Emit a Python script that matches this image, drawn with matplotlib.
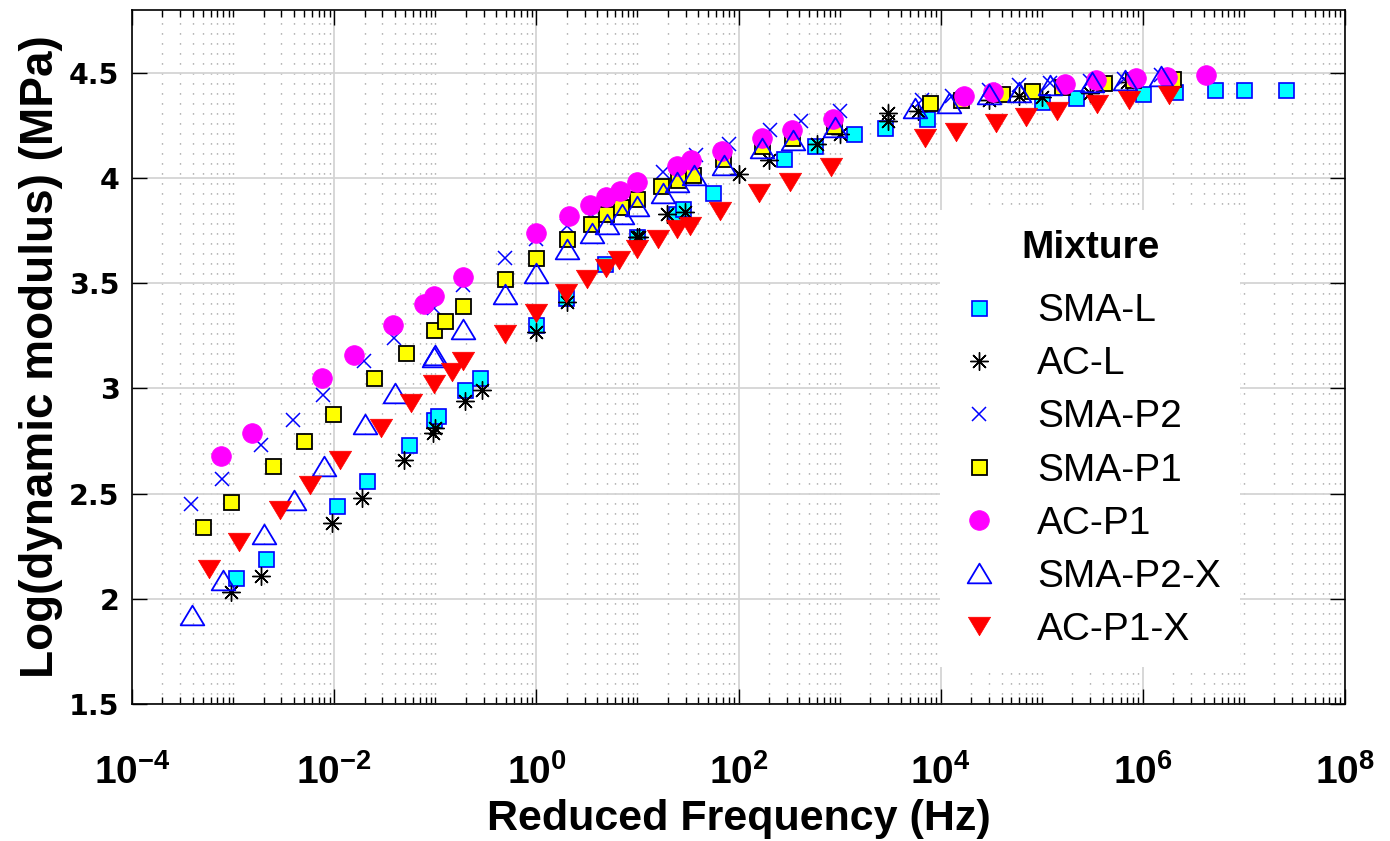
import numpy as np
import matplotlib
matplotlib.use("Agg")
import matplotlib.pyplot as plt
from matplotlib.path import Path
from matplotlib.ticker import FixedLocator, LogLocator, NullFormatter, FixedFormatter

plt.rcParams['font.family'] = ['Liberation Sans', 'DejaVu Sans']
plt.rcParams['mathtext.fontset'] = 'custom'
plt.rcParams['mathtext.rm'] = 'Liberation Sans:bold'
plt.rcParams['mathtext.bf'] = 'Liberation Sans:bold'
plt.rcParams['lines.scale_dashes'] = False

# ---------------- data ----------------
sma_l_f = [1.06e-3, 2.1e-3, 0.0107, 0.021, 0.055, 0.098, 0.107, 0.196, 0.276, 1.0, 1.97, 4.8, 9.9,
           24, 28, 56, 282, 575, 1390, 2800, 7300, 1.0e5, 2.2e5, 1e6, 2.1e6, 5.2e6, 1e7, 2.6e7]
sma_l_v = [2.10, 2.19, 2.44, 2.56, 2.73, 2.85, 2.87, 2.99, 3.05, 3.30, 3.43, 3.59, 3.72,
           3.83, 3.85, 3.93, 4.09, 4.15, 4.21, 4.235, 4.28, 4.36, 4.38, 4.40, 4.41, 4.42, 4.42, 4.42]

ac_l_f = [9.6e-4, 1.9e-3, 9.6e-3, 0.019, 0.049, 0.095, 0.1, 0.197, 0.29, 1.0, 2.0, 9.8, 10.3,
          19.5, 29.5, 100, 200, 600, 1000, 3000, 3000, 6000, 3e4, 6e4, 1e5, 3e5, 6.9e5]
ac_l_v = [2.03, 2.11, 2.36, 2.48, 2.66, 2.79, 2.81, 2.94, 2.99, 3.27, 3.41, 3.72, 3.72,
          3.83, 3.84, 4.02, 4.085, 4.16, 4.21, 4.27, 4.31, 4.32, 4.37, 4.39, 4.385, 4.405, 4.455]

sma_p2_f = [3.8e-4, 7.8e-4, 1.9e-3, 3.9e-3, 7.8e-3, 0.0195, 0.039, 0.097, 0.19, 0.49, 1.0, 2.0,
            3.5, 4.9, 6.9, 9.9, 17.8, 38, 80, 205, 410, 1000, 6500, 1.3e4, 3e4, 6e4, 1.2e5,
            3e5, 6.5e5, 1.5e6]
sma_p2_v = [2.45, 2.57, 2.73, 2.85, 2.97, 3.13, 3.24, 3.38, 3.49, 3.62, 3.71, 3.77,
            3.83, 3.86, 3.89, 3.93, 4.03, 4.11, 4.16, 4.23, 4.27, 4.32, 4.37, 4.39, 4.42, 4.44, 4.45,
            4.46, 4.47, 4.49]

sma_p1_f = [5.0e-4, 9.6e-4, 2.5e-3, 5.0e-3, 9.7e-3, 0.025, 0.051, 0.097, 0.125, 0.19, 0.49, 1.0,
            2.0, 3.45, 4.9, 6.9, 9.9, 17, 25, 35.5, 70, 170, 340, 870, 7900, 1.6e4, 4e4, 8e4,
            1.6e5, 4.1e5, 7.9e5, 2e6]
sma_p1_v = [2.34, 2.46, 2.63, 2.75, 2.88, 3.05, 3.17, 3.275, 3.32, 3.39, 3.52, 3.62,
            3.71, 3.78, 3.83, 3.86, 3.90, 3.96, 3.99, 4.015, 4.09, 4.15, 4.19, 4.245, 4.355, 4.37,
            4.40, 4.415, 4.43, 4.45, 4.465, 4.47]

ac_p1_f = [7.5e-4, 1.55e-3, 7.5e-3, 0.0156, 0.038, 0.077, 0.097, 0.19, 1.0, 2.1, 3.4, 4.9, 6.7,
           9.8, 24.4, 34, 68, 170, 340, 850, 1.7e4, 3.3e4, 1.7e5, 3.4e5, 8.5e5, 1.74e6, 4.2e6]
ac_p1_v = [2.68, 2.79, 3.05, 3.16, 3.30, 3.40, 3.44, 3.53, 3.74, 3.82, 3.87, 3.91, 3.94,
           3.98, 4.055, 4.085, 4.13, 4.19, 4.23, 4.28, 4.39, 4.41, 4.445, 4.465, 4.475, 4.48, 4.49]

sma_p2x_f = [3.9e-4, 7.9e-4, 2.0e-3, 4.0e-3, 8.0e-3, 0.02, 0.04, 0.097, 0.1, 0.19, 0.49, 1.0,
             2.0, 3.55, 5.0, 7.1, 10, 17.7, 24.7, 36, 71, 170, 345, 890, 5500, 1.2e4, 3e4,
             6e4, 1.2e5, 3.1e5, 6.6e5, 1.5e6]
sma_p2x_v = [1.925, 2.09, 2.31, 2.47, 2.63, 2.83, 2.98, 3.15, 3.16, 3.28, 3.45, 3.55,
             3.66, 3.74, 3.78, 3.83, 3.865, 3.93, 3.98, 4.015, 4.06, 4.14, 4.18, 4.24, 4.33, 4.355,
             4.40, 4.41, 4.44, 4.455, 4.465, 4.485]

ac_p1x_f = [5.8e-4, 1.15e-3, 2.9e-3, 5.8e-3, 0.0115, 0.029, 0.058, 0.097, 0.146, 0.19, 0.49, 1.0,
            1.97, 3.2, 4.9, 6.5, 9.9, 16, 24.5, 33, 66, 160, 325, 830, 7000, 1.4e4, 3.5e4, 7e4,
            1.4e5, 3.5e5, 7.2e5, 1.8e6]
ac_p1x_v = [2.14, 2.27, 2.42, 2.54, 2.66, 2.81, 2.93, 3.02, 3.08, 3.13, 3.26, 3.36,
            3.455, 3.52, 3.57, 3.61, 3.66, 3.71, 3.755, 3.77, 3.845, 3.93, 3.98, 4.05, 4.19, 4.22,
            4.26, 4.29, 4.32, 4.35, 4.37, 4.395]

series_names = ['SMA-L', 'AC-L', 'SMA-P2', 'SMA-P1', 'AC-P1', 'SMA-P2-X', 'AC-P1-X']

xticks = [1e-4, 1e-2, 1e0, 1e2, 1e4, 1e6, 1e8]
xtick_labels = [r'$\mathbf{10^{-4}}$', r'$\mathbf{10^{-2}}$', r'$\mathbf{10^{0}}$', r'$\mathbf{10^{2}}$',
                r'$\mathbf{10^{4}}$', r'$\mathbf{10^{6}}$', r'$\mathbf{10^{8}}$']
yticks = [1.5, 2.0, 2.5, 3.0, 3.5, 4.0, 4.5]
ytick_labels = ['1.5', '2', '2.5', '3', '3.5', '4', '4.5']

# ---------------- markers ----------------
tri_up = Path([(-0.6, -0.5), (0.6, -0.5), (0.0, 0.5), (-0.6, -0.5)],
              [Path.MOVETO, Path.LINETO, Path.LINETO, Path.CLOSEPOLY])
tri_dn = Path([(-0.6, 0.5), (0.6, 0.5), (0.0, -0.5), (-0.6, 0.5)],
              [Path.MOVETO, Path.LINETO, Path.LINETO, Path.CLOSEPOLY])

fig = plt.figure(figsize=(13.9, 8.41), dpi=100)
ax = fig.add_axes([0.0950, 0.1629, 0.8727, 0.8257])

ax.set_xscale('log')

styles = [
    dict(marker='s', ms=10.8, mfc='#00FFFF', mec='#0000FF', mew=1.2),
    dict(marker=(8, 2, 0), ms=13, mfc='k', mec='k', mew=1.0),
    dict(marker='x', ms=10, mfc='#0000FF', mec='#0000FF', mew=1.1),
    dict(marker='s', ms=10.8, mfc='#FFFF00', mec='k', mew=1.3),
    dict(marker='o', ms=14.2, mfc='#FF00FF', mec='#FF00FF', mew=0.5),
    dict(marker=tri_up, ms=17, mfc='none', mec='#0000FF', mew=1.3),
    dict(marker=tri_dn, ms=16, mfc='#FF0000', mec='#FF0000', mew=0.5),
]
data = [(sma_l_f, sma_l_v), (ac_l_f, ac_l_v), (sma_p2_f, sma_p2_v), (sma_p1_f, sma_p1_v),
        (ac_p1_f, ac_p1_v), (sma_p2x_f, sma_p2x_v), (ac_p1x_f, ac_p1x_v)]

for (f, v), name, st in zip(data, series_names, styles):
    ax.plot(f, v, linestyle='none', label=name, zorder=3, **st)

ax.set_xlim(1e-4, 1e8)
ax.set_ylim(1.5, 4.8)

ax.xaxis.set_major_locator(FixedLocator(xticks))
ax.xaxis.set_major_formatter(FixedFormatter(xtick_labels))
ax.xaxis.set_minor_locator(LogLocator(base=10, subs=np.arange(1, 10), numticks=100))
ax.xaxis.set_minor_formatter(NullFormatter())
ax.yaxis.set_major_locator(FixedLocator(yticks))
ax.yaxis.set_major_formatter(FixedFormatter(ytick_labels))

ax.grid(True, which='major', color='#d4d4d4', linewidth=1.3, linestyle='-', zorder=0)
ax.grid(True, which='minor', axis='x', color='#8c8c8c', linewidth=1.0,
        linestyle=(0, (0.8, 6.4)), zorder=0)
ax.set_axisbelow(True)

ax.tick_params(which='both', direction='in', top=True, right=True, width=1.0, colors='k')
ax.tick_params(which='major', length=11)
ax.tick_params(which='minor', length=5)
ax.tick_params(axis='x', which='major', labelsize=28, pad=36)
ax.tick_params(axis='y', which='major', labelsize=20.5, pad=9)
for lab in ax.get_yticklabels():
    lab.set_fontweight('bold')
    lab.set_family('DejaVu Sans')
for sp in ax.spines.values():
    sp.set_linewidth(1.2)
    sp.set_color('k')

ax.set_xlabel('Reduced Frequency (Hz)', fontsize=31, fontweight='bold')
ax.set_ylabel('Log(dynamic modulus) (MPa)', fontsize=33, fontweight='bold')
ax.xaxis.set_label_coords(0.5, -0.137)
ax.yaxis.set_label_coords(-0.057, 0.5)

leg = ax.legend(loc='upper left', bbox_to_anchor=(0.666, 0.711), fontsize=28,
                title='Mixture', title_fontproperties={'weight': 'bold', 'size': 28},
                frameon=True, fancybox=False, framealpha=1.0, facecolor='white',
                edgecolor='none', borderpad=0.5, handlelength=1.0, handletextpad=1.0,
                labelspacing=0.44, borderaxespad=0.0, numpoints=1)
leg._legend_box.sep = 0.44 * 28 + 7.5
leg.set_zorder(5)

fig.savefig('out.png', dpi=100)
